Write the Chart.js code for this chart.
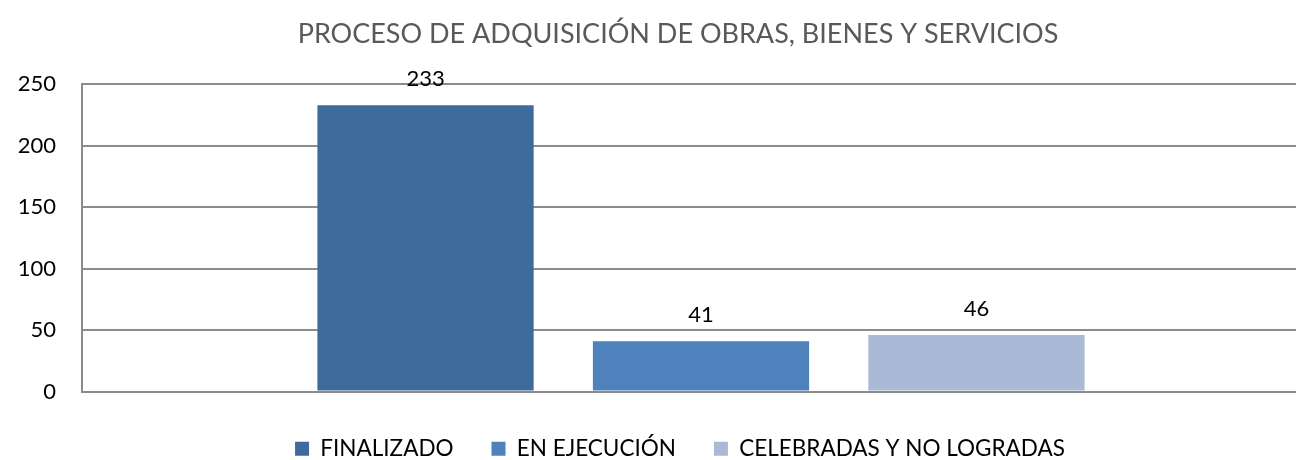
<!DOCTYPE html>
<html>
<head>
<meta charset="utf-8">
<script src="https://cdn.jsdelivr.net/npm/chart.js@4.4.0/dist/chart.umd.min.js"></script>
<style>
  html, body { margin: 0; padding: 0; background: #fff; overflow: hidden; }
  #wrap { width: 1320px; height: 460px; position: relative; }
</style>
</head>
<body>
<div id="wrap"><canvas id="chart"></canvas></div>
<script>
const titleText = "PROCESO DE ADQUISICIÓN DE OBRAS, BIENES Y SERVICIOS";
const categories = [""];
const seriesNames = ["FINALIZADO", "EN EJECUCIÓN", "CELEBRADAS Y NO LOGRADAS"];
const seriesValues = [233, 41, 46];
const seriesColors = ["#3F6A9C", "#4F81BD", "#AAB9D6"];
const yTicks = [0, 50, 100, 150, 200, 250];

const FONT = "Lato, 'Open Sans', sans-serif";

// value labels above bars
const valueLabels = {
  id: "valueLabels",
  afterLayout(chart) {
    // center title + legend a bit right of the canvas middle, like the original
    chart.titleBlock.left = 36;
    chart.legend.left = 40;
  },
  afterDatasetsDraw(chart) {
    const ctx = chart.ctx;
    ctx.save();
    ctx.font = "22px " + FONT;
    ctx.fillStyle = "#000";
    ctx.textAlign = "center";
    ctx.textBaseline = "middle";
    chart.data.datasets.forEach((ds, i) => {
      chart.getDatasetMeta(i).data.forEach((bar, j) => {
        ctx.fillText(ds.data[j], bar.x, bar.y - 26);
      });
    });
    ctx.restore();
  }
};

const datasets = seriesNames.map((name, i) => ({
  label: name,
  data: [seriesValues[i]],
  backgroundColor: seriesColors[i],
  borderWidth: 0,
  categoryPercentage: 0.6675,
  barPercentage: 0.785
}));

new Chart(document.getElementById("chart").getContext("2d"), {
  type: "bar",
  data: { labels: categories, datasets: datasets },
  options: {
    responsive: true,
    maintainAspectRatio: false,
    animation: false,
    layout: { padding: { left: 16, right: 0, top: 0, bottom: -10 } },
    plugins: {
      title: {
        display: true,
        text: titleText,
        color: "#595959",
        font: { family: FONT, size: 27, weight: "normal" },
        padding: { top: 18, bottom: 34 }
      },
      legend: {
        position: "bottom",
        labels: {
          color: "#000",
          font: { family: FONT, size: 22.5 },
          boxWidth: 14,
          boxHeight: 14,
          padding: 38
        }
      },
      tooltip: { enabled: false }
    },
    scales: {
      x: {
        ticks: { display: false },
        grid: { display: false },
        border: { display: true, color: "#8C8C8C", width: 2 }
      },
      y: {
        min: 0,
        max: 250,
        afterBuildTicks(scale) { scale.ticks = yTicks.map(v => ({ value: v })); },
        afterFit(scale) { scale.width = 66; },
        ticks: {
          color: "#000",
          font: { family: FONT, size: 22 },
          padding: 26
        },
        grid: { color: "#8C8C8C", lineWidth: 2, drawTicks: false },
        border: { display: true, color: "#8C8C8C", width: 2 }
      }
    }
  },
  plugins: [valueLabels]
});
</script>
</body>
</html>
